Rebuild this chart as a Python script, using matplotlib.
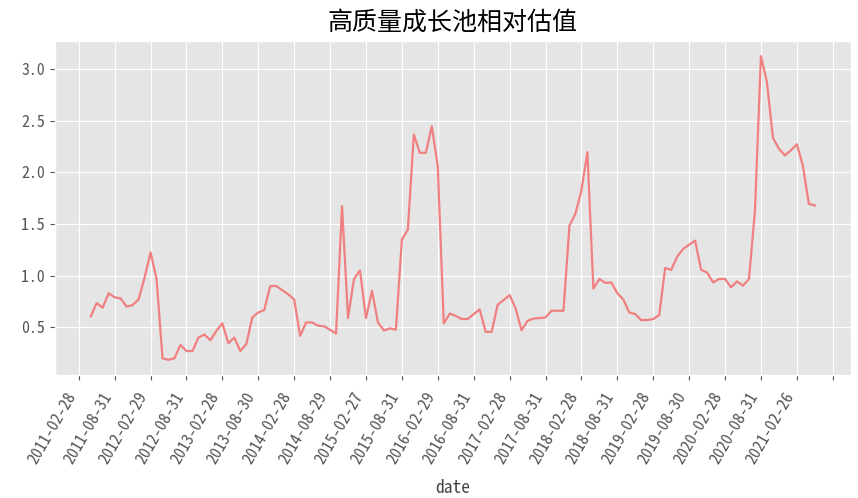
import numpy as np
import pandas as pd
import matplotlib
matplotlib.use("Agg")
import matplotlib.pyplot as plt
from matplotlib.ticker import MultipleLocator, FuncFormatter

plt.style.use("ggplot")
plt.rcParams['font.family'] = ['Noto Sans CJK SC', 'DejaVu Sans']
plt.rcParams['axes.unicode_minus'] = False
mono = ['Noto Sans Mono CJK SC', 'Liberation Mono', 'DejaVu Sans Mono']

title = "高质量成长池相对估值"

# month-end trading dates (index positions), first two months have no value
n_months = 124
tick_labels = ["2011-02-28", "2011-08-31", "2012-02-29", "2012-08-31", "2013-02-28",
               "2013-08-30", "2014-02-28", "2014-08-29", "2015-02-27", "2015-08-31",
               "2016-02-29", "2016-08-31", "2017-02-28", "2017-08-31", "2018-02-28",
               "2018-08-31", "2019-02-28", "2019-08-30", "2020-02-28", "2020-08-31",
               "2021-02-26"]

values = [
    0.605, 0.735, 0.69, 0.83, 0.79, 0.78, 0.70, 0.715, 0.77, 0.98,
    1.226, 0.97, 0.20, 0.185, 0.20, 0.33, 0.27, 0.27, 0.40, 0.43,
    0.375, 0.466, 0.537, 0.346, 0.40, 0.27, 0.337, 0.595, 0.644, 0.667,
    0.90, 0.90, 0.86, 0.82, 0.77, 0.417, 0.547, 0.547, 0.515, 0.51,
    0.476, 0.44, 1.673, 0.59, 0.968, 1.05, 0.589, 0.854, 0.547, 0.47,
    0.49, 0.476, 1.35, 1.447, 2.366, 2.19, 2.19, 2.447, 2.058, 0.537,
    0.634, 0.61, 0.58, 0.58, 0.628, 0.673, 0.456, 0.456, 0.718, 0.764,
    0.812, 0.683, 0.47, 0.563, 0.585, 0.589, 0.595, 0.66, 0.66, 0.66,
    1.485, 1.60, 1.825, 2.197, 0.875, 0.968, 0.93, 0.935, 0.83, 0.77,
    0.644, 0.628, 0.57, 0.57, 0.58, 0.618, 1.075, 1.055, 1.184, 1.259,
    1.30, 1.34, 1.058, 1.03, 0.935, 0.968, 0.968, 0.887, 0.945, 0.903,
    0.968, 1.63, 3.126, 2.877, 2.336, 2.23, 2.165, 2.214, 2.272, 2.068,
    1.696, 1.68,
]
n_missing = n_months - len(values)

series = pd.Series([np.nan] * n_missing + values, dtype=float)
tick_step = 6

fig = plt.figure(figsize=(8.58, 4.98), dpi=100)
ax = fig.add_axes([54.5 / 858, 1 - 375 / 498, (851 - 54.5) / 858, (375 - 41) / 498])
ax.plot(series.index, series.values, color="#F08080", linewidth=1.6)

ax.xaxis.set_major_locator(MultipleLocator(tick_step))


def fmt(x, pos):
    k = int(round(x))
    if k % tick_step == 0 and 0 <= k // tick_step < len(tick_labels):
        return tick_labels[k // tick_step]
    return ""


ax.xaxis.set_major_formatter(FuncFormatter(fmt))
ax.tick_params(axis="x", labelrotation=60, pad=7)
for lab in ax.get_xticklabels() + ax.get_yticklabels():
    lab.set_family(mono)
    lab.set_fontsize(11.5)
plt.setp(ax.get_xticklabels(), ha="right")
ax.set_xlabel("date", fontsize=12.5, color="#444444", family=mono, labelpad=9)
ax.set_title(title, fontsize=18, color="black", pad=8)

fig.savefig("out.png", dpi=100)
